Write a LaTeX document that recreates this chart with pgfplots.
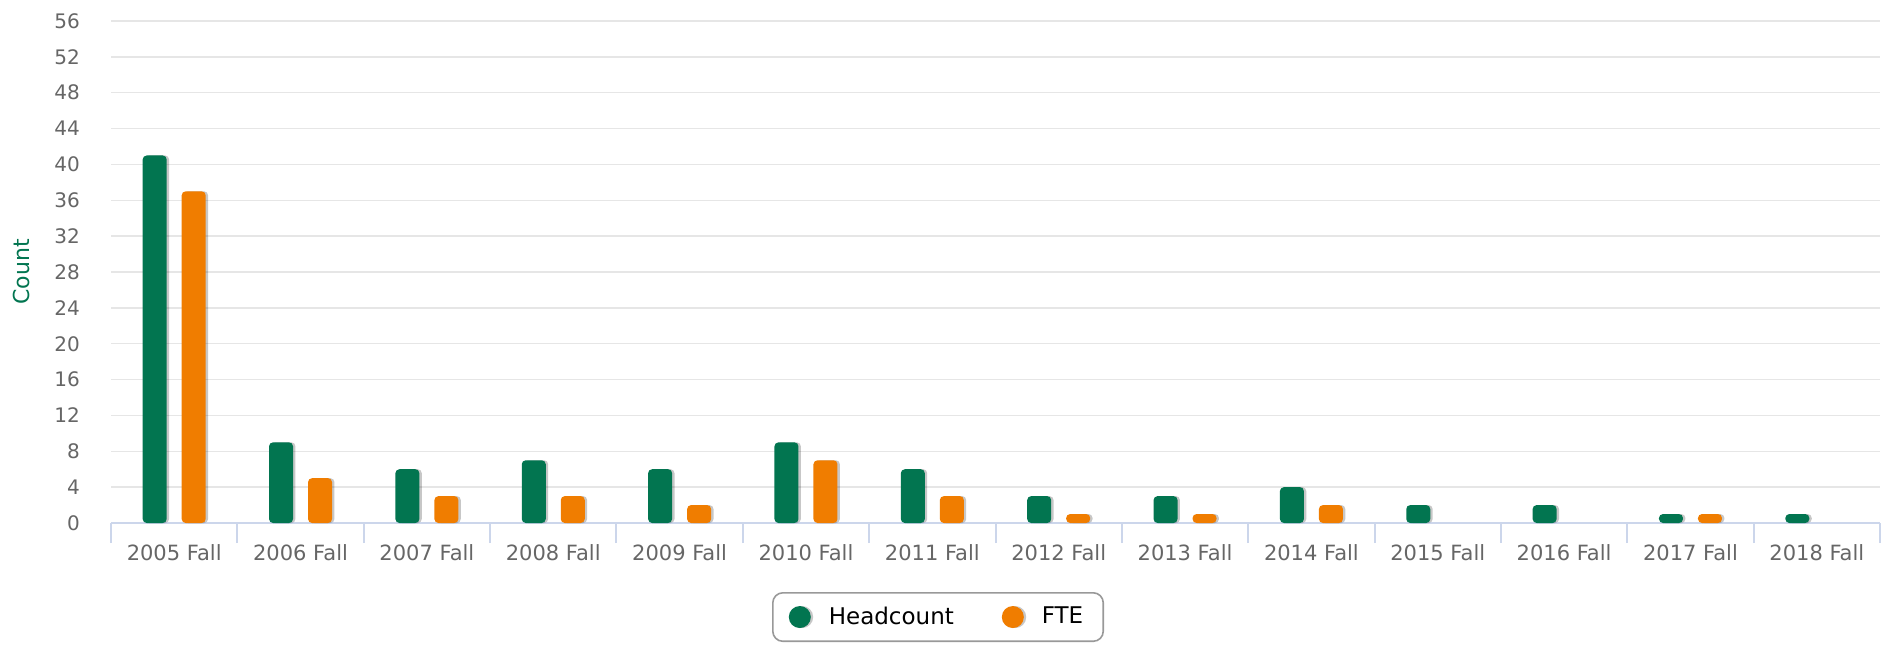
\documentclass[border=0pt]{standalone}
\usepackage{pgfplots}
\pgfplotsset{compat=1.18}
\usepackage{fontspec}
\setmainfont{DejaVu Sans}
\usetikzlibrary{shadows}
\definecolor{hcgreen}{RGB}{2,117,80}
\definecolor{fteorange}{RGB}{240,125,0}
\definecolor{gridgray}{RGB}{230,230,230}
\definecolor{axisblue}{RGB}{204,214,235}
\definecolor{ticktext}{RGB}{102,102,102}
\definecolor{legborder}{RGB}{153,153,153}
\pgfplotstableread{
x head fte
0 41 37
1 9 5
2 6 3
3 7 3
4 6 2
5 9 7
6 6 3
7 3 1
8 3 1
9 4 2
12 1 1
}\datatab
\pgfplotstableread{
x head
10 2
11 2
13 1
}\datatabb
\begin{document}
\begin{tikzpicture}
\path[use as bounding box] (0,0) rectangle (946.5pt,322pt);
\begin{axis}[
  at={(55.5pt,60.5pt)}, anchor=south west,
  scale only axis, width=884.5pt, height=251pt,
  xmin=-0.5, xmax=13.5, ymin=0, ymax=56,
  ytick={0,4,...,56},
  xtick={0,...,13},
  xticklabels={2005 Fall,2006 Fall,2007 Fall,2008 Fall,2009 Fall,2010 Fall,2011 Fall,2012 Fall,2013 Fall,2014 Fall,2015 Fall,2016 Fall,2017 Fall,2018 Fall},
  minor xtick={-0.5,0.5,...,13.5},
  axis x line*=bottom, axis y line*=left,
  x axis line style={draw=axisblue, line width=1pt},
  y axis line style={draw=none},
  major tick length=0pt,
  minor tick length=10pt,
  tick align=outside,
  minor x tick style={draw=axisblue, line width=1pt},
  major x tick style={draw=none},
  ytick style={draw=none},
  ymajorgrids, grid style={draw=gridgray, line width=0.7pt},
  /pgf/number format/assume math mode=true,
  xticklabel style={font=\fontsize{10.5}{12}\selectfont, text=ticktext, anchor=center, yshift=-15pt},
  yticklabel style={font=\fontsize{10}{12}\selectfont, text=ticktext, xshift=-12pt},
  ylabel={Count},
  every axis y label/.style={at={(rel axis cs:0,0.5)}, xshift=-45pt, rotate=90, anchor=center,
     font=\fontsize{11}{13}\selectfont, text=hcgreen},
  legend columns=2,
  legend style={at={(axis description cs:0.37366,-0.13745)}, anchor=north west,
     draw=legborder, line width=0.8pt, rounded corners=5pt,
     inner xsep=8pt, inner ysep=5pt,
     font=\fontsize{11.5}{13}\selectfont,
     /tikz/every odd column/.append style={column sep=7pt},
     /tikz/every even column/.append style={column sep=22pt}},
  legend cell align=left,
]
\addplot[ybar, bar width=12pt, bar shift=-9.75pt, fill=hcgreen, draw=none, rounded corners=2pt,
  drop shadow={shadow xshift=1.2pt, shadow yshift=0pt, opacity=0.22, fill=black},
  legend image code/.code={\fill[hcgreen] (5.5pt,0pt) circle (5.5pt);}]
  table[x=x,y=head] {\datatab};
\addlegendentry{Headcount}
\addplot[ybar, bar width=12pt, bar shift=9.75pt, fill=fteorange, draw=none, rounded corners=2pt,
  drop shadow={shadow xshift=1.2pt, shadow yshift=0pt, opacity=0.22, fill=black},
  legend image code/.code={\fill[fteorange] (5.5pt,0pt) circle (5.5pt);}]
  table[x=x,y=fte] {\datatab};
\addlegendentry{FTE}
\addplot[ybar, bar width=12pt, bar shift=-9.75pt, fill=hcgreen, draw=none, rounded corners=2pt,
  drop shadow={shadow xshift=1.2pt, shadow yshift=0pt, opacity=0.22, fill=black},
  forget plot]
  table[x=x,y=head] {\datatabb};
\end{axis}
\end{tikzpicture}
\end{document}
